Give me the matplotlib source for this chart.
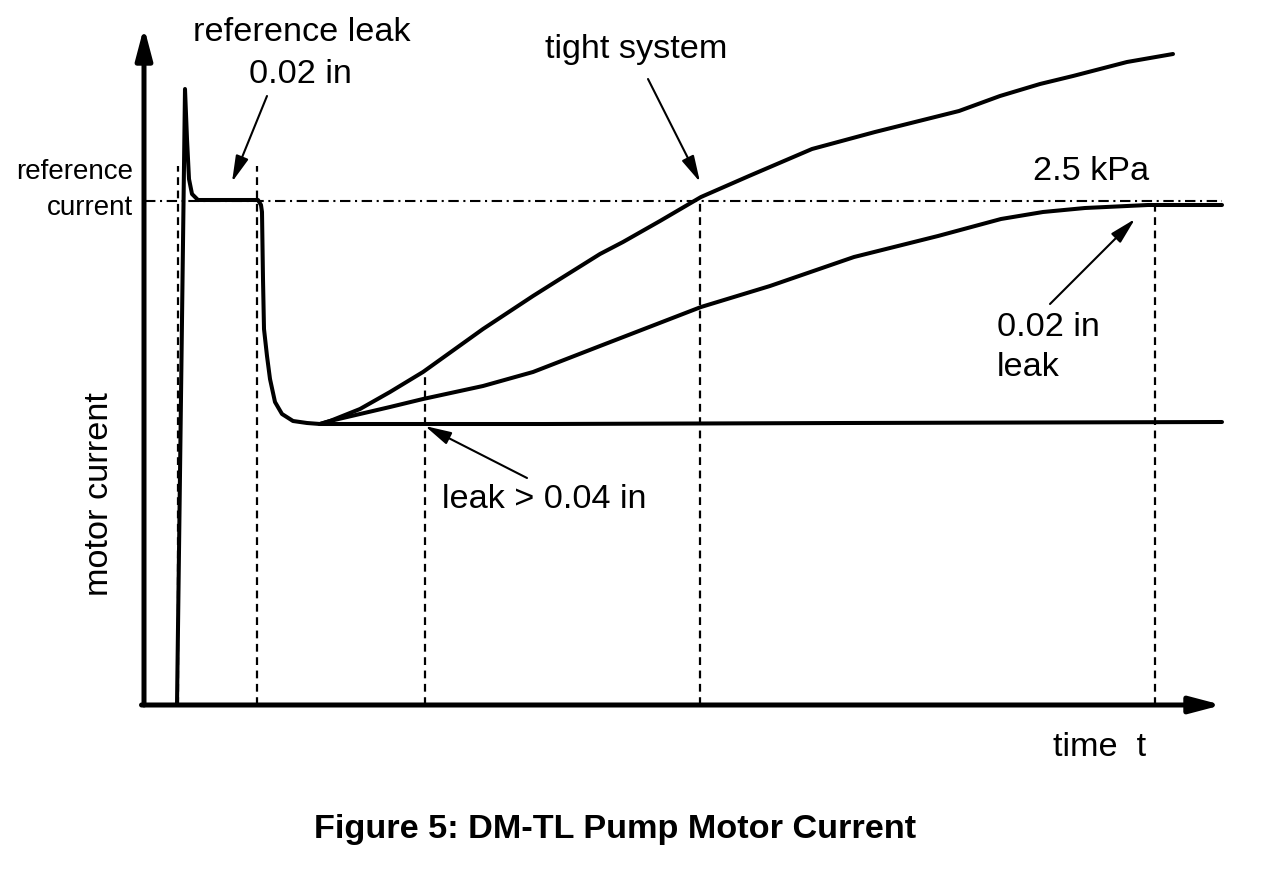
import matplotlib
matplotlib.use('Agg')
import matplotlib.pyplot as plt

plt.rcParams['font.family'] = ['Liberation Sans', 'DejaVu Sans']

# Werte in Diagramm-Einheiten (Zeit t, Motorstrom I)
ref_current = 5.04

# Anlauf: Spitze, Referenzleck-Messung, Abfall bis zum Minimum
start_t = [0.32, 0.40, 0.42, 0.44, 0.47, 0.53, 1.13, 1.16, 1.17, 1.18, 1.19,
           1.22, 1.25, 1.30, 1.37, 1.48, 1.62, 1.75]
start_i = [0.00, 6.16, 5.66, 5.26, 5.11, 5.05, 5.05, 5.00, 4.93, 4.26, 3.76,
           3.49, 3.26, 3.03, 2.91, 2.84, 2.82, 2.81]

# dichtes System
tight_t = [1.75, 1.85, 2.15, 2.45, 2.78, 3.38, 3.88, 4.15, 4.55, 4.78, 5.15,
           5.56, 6.04, 6.67, 7.30, 8.14, 8.55, 8.95, 9.28, 9.82, 10.28]
tight_i = [2.81, 2.84, 2.96, 3.13, 3.33, 3.76, 4.09, 4.26, 4.51, 4.63, 4.84,
           5.08, 5.29, 5.56, 5.73, 5.94, 6.09, 6.21, 6.29, 6.43, 6.51]

# 0.02 in Leck
leak02_t = [1.75, 1.85, 2.15, 2.45, 2.78, 3.38, 3.88, 4.55, 5.56, 6.25, 7.09,
            7.93, 8.56, 8.98, 9.40, 10.03, 10.77]
leak02_i = [2.81, 2.84, 2.91, 2.98, 3.06, 3.19, 3.33, 3.59, 3.98, 4.19, 4.48,
            4.69, 4.86, 4.93, 4.97, 5.00, 5.00]

# Leck > 0.04 in
leak04_t = [1.75, 4.0, 7.0, 10.77]
leak04_i = [2.81, 2.81, 2.82, 2.83]

# senkrechte Hilfslinien: Zeitpunkt und Hoehe
vline_t = [0.33, 1.12, 2.80, 5.55, 10.10]
vline_top = [5.39, 5.39, 3.33, 5.08, 5.06]

fig = plt.figure(figsize=(12.64, 8.7), dpi=100)
ax = fig.add_axes([0, 0, 1, 1])
ax.set_xlim(-1.45, 11.19)
ax.set_ylim(-1.64, 7.06)
ax.axis('off')

# Achsen mit Pfeilen
ax.annotate('', xy=(-0.01, 6.78), xytext=(-0.01, 0.0),
            arrowprops=dict(arrowstyle='-|>,head_length=0.95,head_width=0.25',
                            lw=3.6, color='k', mutation_scale=20, shrinkA=0, shrinkB=0))
ax.annotate('', xy=(10.77, 0.0), xytext=(-0.035, 0.0),
            arrowprops=dict(arrowstyle='-|>,head_length=0.95,head_width=0.25',
                            lw=3.6, color='k', mutation_scale=20, shrinkA=0, shrinkB=0))

# Referenzstrom (Strich-Punkt)
ax.plot([0, 10.77], [ref_current, ref_current], color='k', lw=1.5,
        linestyle=(0, (5, 2.2, 1, 2.2)))

# senkrechte gestrichelte Linien
for t, top in zip(vline_t, vline_top):
    ax.plot([t, t], [0, top], color='k', lw=1.6, linestyle=(0, (3.5, 2.5)))

# Kurven
kw = dict(color='k', lw=2.9, solid_joinstyle='round', solid_capstyle='round')
ax.plot(start_t, start_i, **kw)
ax.plot(tight_t, tight_i, **kw)
ax.plot(leak02_t, leak02_i, **kw)
ax.plot(leak04_t, leak04_i, **kw)

# Beschriftungspfeile
arrow_kw = dict(arrowstyle='-|>,head_length=0.8,head_width=0.2', lw=1.5,
                color='k', mutation_scale=20, shrinkA=0, shrinkB=0)
ax.annotate('', xy=(0.87, 5.23), xytext=(1.22, 6.09), arrowprops=arrow_kw)
ax.annotate('', xy=(5.55, 5.23), xytext=(5.03, 6.26), arrowprops=arrow_kw)
ax.annotate('', xy=(9.90, 4.86), xytext=(9.05, 4.01), arrowprops=arrow_kw)
ax.annotate('', xy=(2.80, 2.79), xytext=(3.82, 2.27), arrowprops=arrow_kw)

fs = 24.7
ax.text(1.57, 6.73, 'reference leak', fontsize=fs, ha='center', va='center')
ax.text(1.55, 6.31, '0.02 in', fontsize=fs, ha='center', va='center')
ax.text(4.91, 6.56, 'tight system', fontsize=fs, ha='center', va='center')
ax.text(9.46, 5.34, '2.5 kPa', fontsize=fs, ha='center', va='center')
ax.text(8.52, 3.78, '0.02 in', fontsize=fs, ha='left', va='center')
ax.text(8.52, 3.38, 'leak', fontsize=fs, ha='left', va='center')
ax.text(2.97, 2.06, 'leak > 0.04 in', fontsize=fs, ha='left', va='center')
ax.text(-0.12, 5.34, 'reference', fontsize=20, ha='right', va='center')
ax.text(-0.12, 4.98, 'current', fontsize=20, ha='right', va='center')
ax.text(-0.45, 2.12, 'motor current', fontsize=fs, ha='center', va='center', rotation=90)
ax.text(9.55, -0.42, 'time  t', fontsize=fs, ha='center', va='center')
ax.text(4.70, -1.24, 'Figure 5: DM-TL Pump Motor Current', fontsize=fs,
        fontweight='bold', ha='center', va='center')

fig.savefig('out.png', dpi=100)
